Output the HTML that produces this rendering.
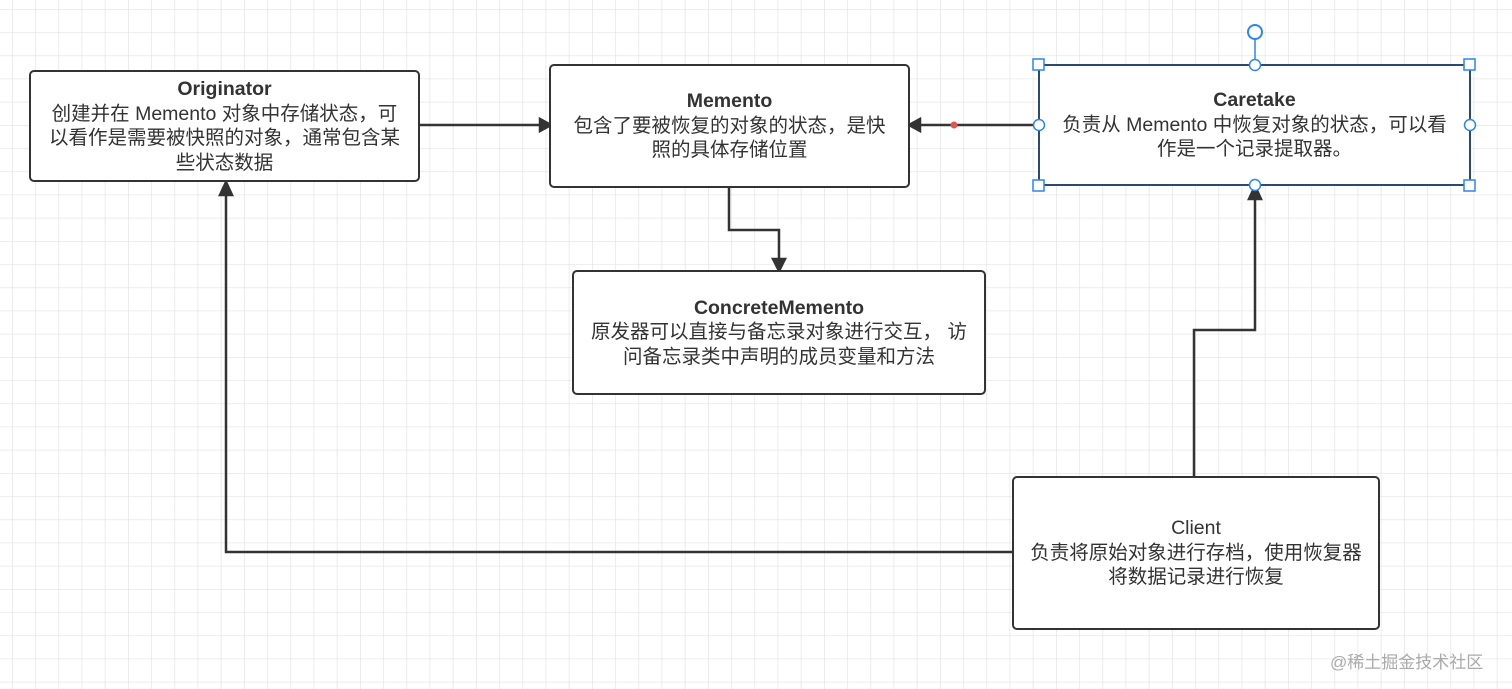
<!DOCTYPE html>
<html><head><meta charset="utf-8"><style>
html,body{margin:0;padding:0;width:1512px;height:689px;overflow:hidden;background:#fff}
.b{position:absolute;box-sizing:border-box;border:2.5px solid #333;border-radius:5px;background:#fff;display:flex;flex-direction:column;align-items:center;justify-content:center;text-align:center;font-family:"Liberation Sans","Noto Sans CJK SC",sans-serif;font-size:19.5px;line-height:24.5px;color:#333;white-space:nowrap}
.t{font-weight:bold}
</style></head><body>
<svg width="1512" height="689" style="position:absolute;left:0;top:0">
<defs>
<pattern id="g" x="12" y="9" width="23.2" height="23.2" patternUnits="userSpaceOnUse">
<path d="M0 0V23.2M0 0H23.2" stroke="#e2e2e2" stroke-width="1.3" fill="none"/>
</pattern>
</defs>
<rect width="1512" height="689" fill="url(#g)"/>
<g stroke="#333" stroke-width="2.5" fill="none">
<path d="M419 125H540"/><path d="M540 119L551 125L540 131Z" fill="#333"/>
<path d="M1039 125H920"/><path d="M920 119L909 125L920 131Z" fill="#333"/>
<path d="M729 187V230H779V260"/><path d="M773 259L779 271L785 259Z" fill="#333"/>
<path d="M1013 552H226V194"/><path d="M220 195L226 182L232 195Z" fill="#333"/>
<path d="M1194 477V330H1255V198"/><path d="M1249 199L1255 186L1261 199Z" fill="#333"/>
</g>
<circle cx="954" cy="125" r="3.5" fill="#e05555"/>
</svg>
<div class="b" style="left:29px;top:70px;width:391px;height:112px"><div class="t">Originator</div><div>创建并在 Memento 对象中存储状态，可<br>以看作是需要被快照的对象，通常包含某<br>些状态数据</div></div>
<div class="b" style="left:549px;top:64px;width:361px;height:124px"><div class="t">Memento</div><div>包含了要被恢复的对象的状态，是快<br>照的具体存储位置</div></div>
<div class="b" style="left:1038px;top:64px;width:433px;height:122px;border-color:#2b4a6e;border-radius:0"><div class="t">Caretake</div><div>负责从 Memento 中恢复对象的状态，可以看<br>作是一个记录提取器。</div></div>
<div class="b" style="left:572px;top:270px;width:414px;height:125px"><div class="t">ConcreteMemento</div><div>原发器可以直接与备忘录对象进行交互， 访<br>问备忘录类中声明的成员变量和方法</div></div>
<div class="b" style="left:1012px;top:476px;width:368px;height:154px"><div>Client</div><div>负责将原始对象进行存档，使用恢复器<br>将数据记录进行恢复</div></div>
<svg width="1512" height="689" style="position:absolute;left:0;top:0">
<g stroke="#2f86e6" stroke-width="1.5" fill="#fff">
<line x1="1255" y1="38" x2="1255" y2="65"/>
<circle cx="1255" cy="32" r="7" stroke-width="2"/>
<rect x="1033" y="59" width="11" height="11"/><rect x="1464" y="59" width="11" height="11"/>
<rect x="1033" y="180" width="11" height="11"/><rect x="1464" y="180" width="11" height="11"/>
<circle cx="1255" cy="65" r="5.5"/><circle cx="1255" cy="185" r="5.5"/>
<circle cx="1039" cy="125" r="5.5"/><circle cx="1470" cy="125" r="5.5"/>
</g>
</svg>
<div style="position:absolute;left:1330px;top:648px;font-family:'Liberation Sans','Noto Sans CJK SC',sans-serif;font-size:17px;color:#aaa">@稀土掘金技术社区</div>
</body></html>
